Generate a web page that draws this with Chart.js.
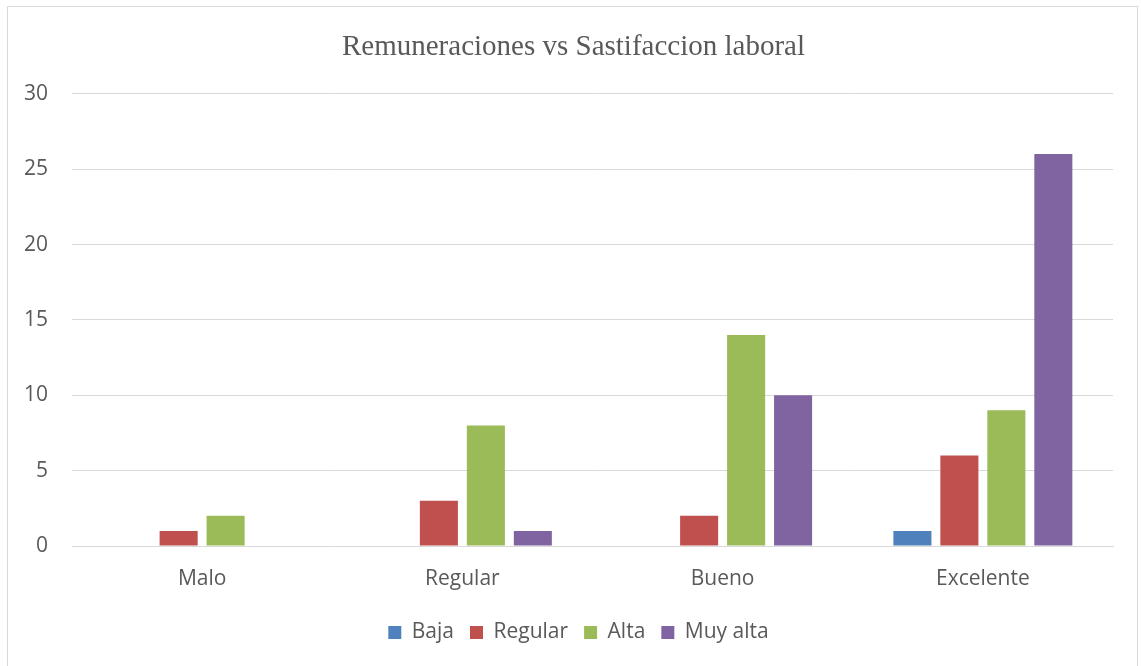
<!DOCTYPE html>
<html>
<head>
<meta charset="utf-8">
<script src="https://cdn.jsdelivr.net/npm/chart.js@4"></script>
<style>
  html, body { margin: 0; padding: 0; background: #fff; }
  #wrap { position: relative; width: 1141px; height: 666px; overflow: hidden; }
  #frame { position: absolute; left: 7px; top: 6px; width: 1131px; height: 680px; border: 1px solid #d9d9d9; box-sizing: border-box; }
  canvas { position: absolute; left: 0; top: 0; }
</style>
</head>
<body>
<div id="wrap">
  <div id="frame"></div>
  <canvas id="chart" width="1141" height="666"></canvas>
</div>
<script>
  // categorias de remuneracion (eje x)
  const categories = ['Malo', 'Regular', 'Bueno', 'Excelente'];

  // niveles de satisfaccion laboral
  const baja = [0, 0, 0, 1];
  const regular = [1, 3, 2, 6];
  const alta = [2, 8, 14, 9];
  const muyAlta = [0, 1, 10, 26];

  const yTicks = [0, 5, 10, 15, 20, 25, 30];

  const textColor = '#595959';
  const gridColor = '#d9d9d9';
  const sans = '"Open Sans", sans-serif';

  function serie(label, data, color) {
    return {
      label: label,
      data: data,
      backgroundColor: color,
      borderWidth: 0,
      categoryPercentage: 0.722,
      barPercentage: 0.81
    };
  }

  // centra titulo y leyenda sobre todo el recuadro, no solo el area util
  const recentrar = {
    id: 'recentrar',
    afterLayout(chart) {
      const t = chart.titleBlock;
      if (t) { t.left += 34; t.top += 2; t.bottom += 2; }
      const l = chart.legend;
      if (l) {
        l.left += 44; l.top += 2; l.bottom += 2;
        if (l.adjustHitBoxes) l.adjustHitBoxes();
      }
    }
  };

  const ctx = document.getElementById('chart').getContext('2d');
  new Chart(ctx, {
    type: 'bar',
    data: {
      labels: categories,
      datasets: [
        serie('Baja', baja, '#4f81bd'),
        serie('Regular', regular, '#c0504d'),
        serie('Alta', alta, '#9bbb59'),
        serie('Muy alta', muyAlta, '#8064a2')
      ]
    },
    plugins: [recentrar],
    options: {
      responsive: false,
      animation: false,
      layout: { padding: { left: 0, right: 28, top: 0, bottom: 15 } },
      plugins: {
        tooltip: { enabled: false },
        title: {
          display: true,
          text: 'Remuneraciones vs Sastifaccion laboral',
          color: textColor,
          font: { family: '"Liberation Serif", "Times New Roman", serif', size: 29, weight: 'normal' },
          padding: { top: 28, bottom: 31 }
        },
        legend: {
          position: 'bottom',
          labels: {
            color: textColor,
            boxWidth: 13,
            boxHeight: 13,
            padding: 16,
            font: { family: sans, size: 21 }
          }
        }
      },
      scales: {
        x: {
          grid: { display: false, drawTicks: false },
          border: { display: true, color: gridColor, width: 1 },
          ticks: {
            color: textColor,
            padding: 20,
            font: { family: sans, size: 21 }
          },
          afterFit: function (scale) { scale.height = 58; }
        },
        y: {
          min: 0,
          max: 30,
          afterBuildTicks: function (scale) {
            scale.ticks = yTicks.map(v => ({ value: v }));
          },
          grid: { color: gridColor, lineWidth: 1, drawTicks: false },
          border: { display: false },
          ticks: {
            color: textColor,
            padding: 24,
            font: { family: sans, size: 21 }
          },
          afterFit: function (scale) { scale.width = 72; }
        }
      }
    }
  });
</script>
</body>
</html>
